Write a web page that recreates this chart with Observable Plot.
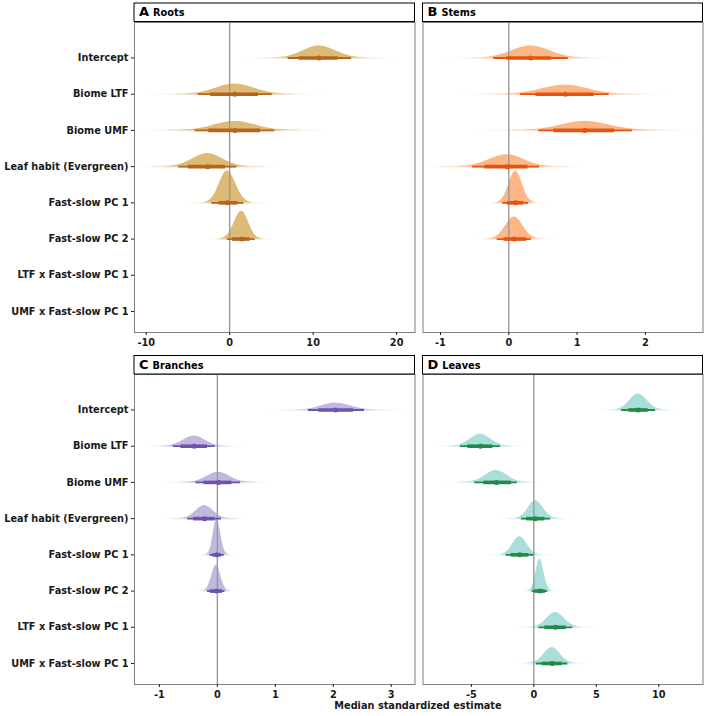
<!DOCTYPE html>
<html><head><meta charset="utf-8">
<script src="https://cdn.jsdelivr.net/npm/d3@7"></script>
<script src="https://cdn.jsdelivr.net/npm/@observablehq/plot@0.6"></script>
<style>
body{margin:0;background:#fff;}
#chart{position:relative;width:708px;height:716px;background:#fff;overflow:hidden;}
#chart .panel{position:absolute;}
#chart svg{overflow:visible;}
#overlay{position:absolute;left:0;top:0;pointer-events:none;}
</style></head>
<body><div id="chart"></div>
<script>
// Terms (rows, top to bottom)
const terms = ["Intercept","Biome LTF","Biome UMF","Leaf habit (Evergreen)","Fast-slow PC 1","Fast-slow PC 2","LTF x Fast-slow PC 1","UMF x Fast-slow PC 1"];

// A Roots
const rootsMedian = [10.7, 0.6, 0.64, -2.64, -0.28, 1.44];
const rootsLo66   = [8.3, -2.3, -2.5, -4.95, -1.28, 0.32];
const rootsHi66   = [13.0, 3.45, 3.7, -0.5, 1.0, 2.44];
const rootsLo95   = [7.0, -3.75, -4.15, -6.1, -2.15, -0.28];
const rootsHi95   = [14.6, 5.1, 5.4, 0.85, 1.7, 3.04];
const rootsPeak   = [0.33, 0.28, 0.25, 0.36, 0.88, 0.77];
const rootsTicks  = [-10, 0, 10, 20];
const rootsTickLabels = ["-10", "0", "10", "20"];

// B Stems
const stemsMedian = [0.32, 0.83, 1.11, -0.02, 0.10, 0.08];
const stemsLo66   = [-0.03, 0.40, 0.66, -0.35, -0.02, -0.07];
const stemsHi66   = [0.63, 1.25, 1.55, 0.28, 0.22, 0.26];
const stemsLo95   = [-0.22, 0.17, 0.44, -0.53, -0.09, -0.17];
const stemsHi95   = [0.87, 1.47, 1.81, 0.45, 0.29, 0.33];
const stemsPeak   = [0.33, 0.25, 0.25, 0.33, 0.88, 0.61];
const stemsTicks  = [-1, 0, 1, 2];
const stemsTickLabels = ["-1", "0", "1", "2"];

// C Branches
const branchesMedian = [2.04, -0.40, 0.02, -0.22, -0.01, -0.02];
const branchesLo66   = [1.75, -0.63, -0.23, -0.41, -0.08, -0.12];
const branchesHi66   = [2.35, -0.17, 0.25, -0.04, 0.07, 0.09];
const branchesLo95   = [1.57, -0.76, -0.37, -0.51, -0.13, -0.17];
const branchesHi95   = [2.54, -0.04, 0.40, 0.07, 0.12, 0.13];
const branchesPeak   = [0.19, 0.28, 0.28, 0.36, 0.99, 0.72];
const branchesTicks  = [-1, 0, 1, 2, 3];
const branchesTickLabels = ["-1", "0", "1", "2", "3"];

// D Leaves
const leavesMedian = [8.35, -4.27, -2.99, 0.13, -1.12, 0.48, 1.73, 1.47];
const leavesLo66   = [7.61, -5.28, -4.00, -0.59, -1.81, 0.08, 0.88, 0.67];
const leavesHi66   = [9.15, -3.28, -1.79, 0.88, -0.40, 0.93, 2.59, 2.27];
const leavesLo95   = [7.02, -5.87, -4.72, -0.99, -2.22, -0.13, 0.40, 0.19];
const leavesHi95   = [9.74, -2.67, -1.33, 1.33, 0.0, 1.12, 3.12, 2.72];
const leavesPeak   = [0.44, 0.33, 0.33, 0.50, 0.50, 0.88, 0.41, 0.44];
const leavesTicks  = [-5, 0, 5, 10];
const leavesTickLabels = ["-5", "0", "5", "10"];

const FONT = "'DejaVu Sans', sans-serif";

function buildPanel(cfg) {
  const {med, lo66, hi66, lo95, hi95, peak, slab, line, domain, ticks, tickLabels, showY, width, marginLeft, marginRight} = cfg;
  const slabPts = [], tails = [], thin = [], thick = [], pts = [];
  med.forEach((m, i) => {
    const row = i + 1;
    const sL = (m - lo95[i]) / 1.96, sR = (hi95[i] - m) / 1.96;
    const N = 180;
    for (let j = 0; j <= N; j++) {
      const z = -4.6 + 9.2 * j / N;
      const x = m + z * (z < 0 ? sL : sR);
      const h = peak[i] * Math.exp(-z * z / 2);
      slabPts.push({row, x, base: row, top: row - h});
    }
    const M = 60;
    for (let j = 0; j < M; j++) {
      const z0 = -4.8 + 9.6 * j / M, z1 = -4.8 + 9.6 * (j + 1) / M;
      const zc = (z0 + z1) / 2;
      tails.push({row,
        x1: m + z0 * (z0 < 0 ? sL : sR),
        x2: m + z1 * (z1 < 0 ? sL : sR),
        op: Math.exp(-Math.pow(Math.abs(zc) / 2.5, 2))});
    }
    thin.push({row, x1: lo95[i], x2: hi95[i]});
    thick.push({row, x1: lo66[i], x2: hi66[i]});
    pts.push({row, x: m});
  });
  return Plot.plot({
    width, height: 310 + 26,
    marginLeft, marginRight, marginTop: 0, marginBottom: 26,
    x: {domain, label: null},
    y: {domain: [8.58, 0.02], label: null, axis: showY ? undefined : null},
    style: {fontFamily: FONT, fontSize: "9.75px", fontWeight: "bold", color: "#1a1a1a", background: "transparent", overflow: "visible"},
    marks: [
      Plot.ruleY(tails, {y: "row", x1: "x1", x2: "x2", stroke: slab, strokeWidth: 1.6, strokeOpacity: "op", clip: true}),
      Plot.areaY(slabPts, {x: "x", y1: "base", y2: "top", z: "row", fill: slab, clip: true}),
      Plot.ruleX([0], {stroke: "#9a9a9a", strokeWidth: 1.4}),
      Plot.ruleY(thin, {y: "row", x1: "x1", x2: "x2", stroke: line, strokeWidth: 1.8}),
      Plot.ruleY(thick, {y: "row", x1: "x1", x2: "x2", stroke: line, strokeWidth: 3.6}),
      Plot.dot(pts, {x: "x", y: "row", r: 2.5, fill: line}),
      Plot.frame({stroke: "#808080", strokeWidth: 1}),
      Plot.axisX({ticks, tickFormat: d => tickLabels[ticks.indexOf(d)], tickSize: 3, tickPadding: 4, label: null, fontSize: 9.75, fontWeight: "bold"}),
      showY ? Plot.axisY({ticks: [1,2,3,4,5,6,7,8], tickFormat: d => terms[d - 1], tickSize: 3, tickPadding: 3, label: null, fontSize: 9.75, fontWeight: "bold"}) : null
    ]
  });
}

const chart = document.getElementById("chart");
function place(svg, left, top) {
  const d = document.createElement("div");
  d.className = "panel";
  d.style.left = left + "px";
  d.style.top = top + "px";
  d.appendChild(svg);
  chart.appendChild(d);
}

place(buildPanel({med: rootsMedian, lo66: rootsLo66, hi66: rootsHi66, lo95: rootsLo95, hi95: rootsHi95, peak: rootsPeak,
  slab: "#DDBB76", line: "#B6651E", domain: [-11.4, 22.2], ticks: rootsTicks, tickLabels: rootsTickLabels,
  showY: true, width: 415, marginLeft: 134, marginRight: 0.5}), 0, 22);
place(buildPanel({med: stemsMedian, lo66: stemsLo66, hi66: stemsHi66, lo95: stemsLo95, hi95: stemsHi95, peak: stemsPeak,
  slab: "#FDB685", line: "#E4530F", domain: [-1.256, 2.843], ticks: stemsTicks, tickLabels: stemsTickLabels,
  showY: false, width: 290, marginLeft: 4.5, marginRight: 5.5}), 418, 22);
place(buildPanel({med: branchesMedian, lo66: branchesLo66, hi66: branchesHi66, lo95: branchesLo95, hi95: branchesHi95, peak: branchesPeak,
  slab: "#BFBADD", line: "#6E52AE", domain: [-1.43, 3.41], ticks: branchesTicks, tickLabels: branchesTickLabels,
  showY: true, width: 415, marginLeft: 134, marginRight: 0.5}), 0, 374);
place(buildPanel({med: leavesMedian, lo66: leavesLo66, hi66: leavesHi66, lo95: leavesLo95, hi95: leavesHi95, peak: leavesPeak,
  slab: "#A9DEDA", line: "#218A47", domain: [-8.87, 13.54], ticks: leavesTicks, tickLabels: leavesTickLabels,
  showY: false, width: 290, marginLeft: 4.5, marginRight: 5.5}), 418, 374);

// Overlay: facet strips and shared axis title
const ns = "http://www.w3.org/2000/svg";
const ov = document.createElementNS(ns, "svg");
ov.setAttribute("id", "overlay");
ov.setAttribute("width", 708);
ov.setAttribute("height", 716);
const strips = [
  {tag: "A", name: "Roots", x: 134, y: 3, w: 280.5},
  {tag: "B", name: "Stems", x: 422.5, y: 3, w: 280},
  {tag: "C", name: "Branches", x: 134, y: 355.5, w: 280.5},
  {tag: "D", name: "Leaves", x: 422.5, y: 355.5, w: 280}
];
strips.forEach(s => {
  const r = document.createElementNS(ns, "rect");
  r.setAttribute("x", s.x); r.setAttribute("y", s.y);
  r.setAttribute("width", s.w); r.setAttribute("height", 18.5);
  r.setAttribute("fill", "#fff"); r.setAttribute("stroke", "#000"); r.setAttribute("stroke-width", 1);
  ov.appendChild(r);
  const t = document.createElementNS(ns, "text");
  t.setAttribute("x", s.x + 5); t.setAttribute("y", s.y + 13);
  t.setAttribute("font-family", FONT); t.setAttribute("font-weight", "bold"); t.setAttribute("fill", "#000");
  const a = document.createElementNS(ns, "tspan");
  a.setAttribute("font-size", "13px"); a.textContent = s.tag;
  const b = document.createElementNS(ns, "tspan");
  b.setAttribute("font-size", "9.75px"); b.setAttribute("dx", "4"); b.textContent = s.name;
  t.appendChild(a); t.appendChild(b);
  ov.appendChild(t);
});
const title = document.createElementNS(ns, "text");
title.setAttribute("x", 418); title.setAttribute("y", 709);
title.setAttribute("text-anchor", "middle");
title.setAttribute("font-family", FONT); title.setAttribute("font-weight", "bold");
title.setAttribute("font-size", "9.75px"); title.setAttribute("fill", "#1a1a1a");
title.textContent = "Median standardized estimate";
ov.appendChild(title);
chart.appendChild(ov);
</script>
</body></html>
